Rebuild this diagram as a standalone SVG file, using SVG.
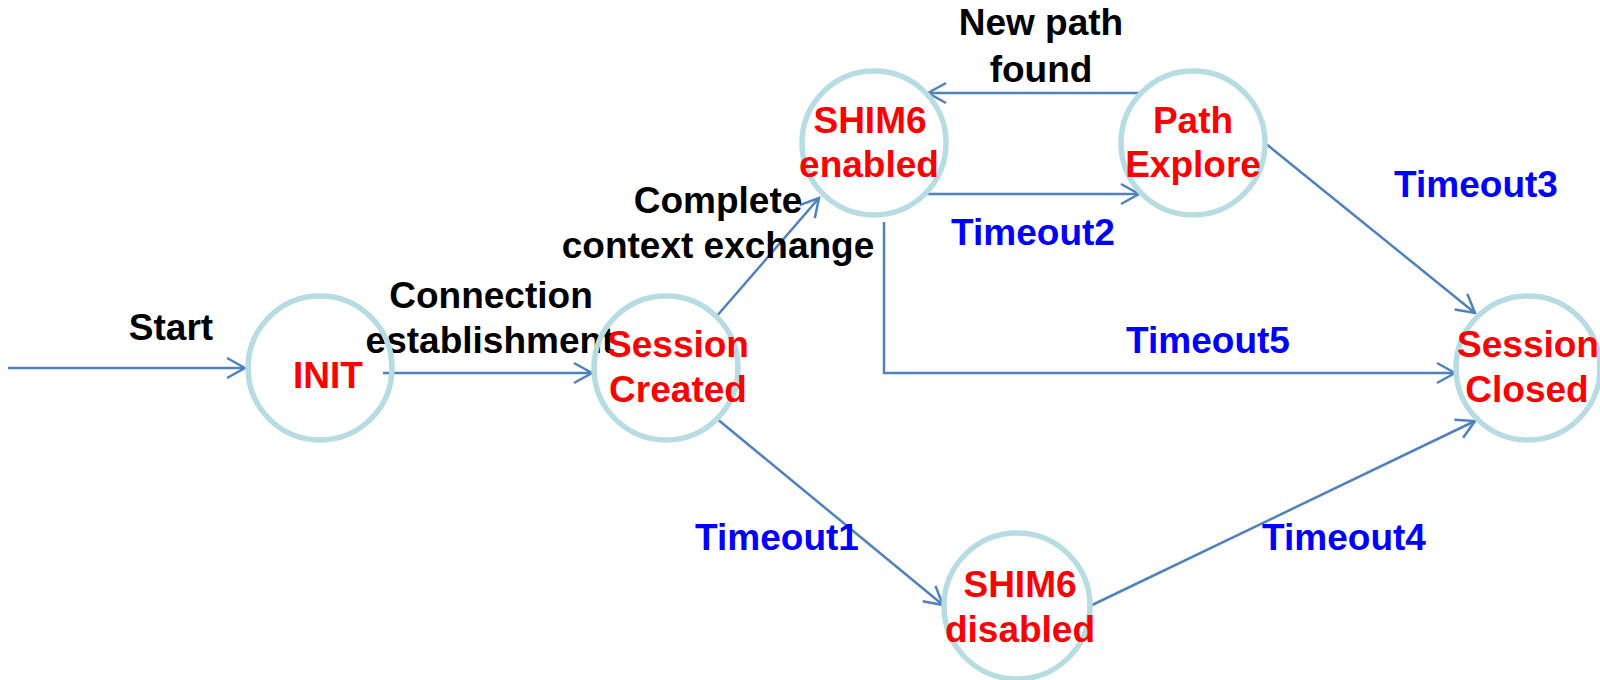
<svg xmlns="http://www.w3.org/2000/svg" width="1600" height="680" viewBox="0 0 1600 680">
  <style>
    .state { fill: none; stroke: #B7DDE3; stroke-width: 5.5; }
    .name { fill: #FF0000; font-family: "Liberation Sans", Arial, sans-serif; font-weight: bold; font-size: 37px; text-anchor: middle; }
    .edge { fill: none; stroke: #4F81BD; stroke-width: 2.5; marker-end: url(#open); }
    .lbl { fill: #000000; font-family: "Liberation Sans", Arial, sans-serif; font-weight: bold; font-size: 37px; text-anchor: middle; }
    .tmo { fill: #0000FF; font-family: "Liberation Sans", Arial, sans-serif; font-weight: bold; font-size: 37px; text-anchor: middle; }
  </style>
  <defs>
    <marker id="open" markerUnits="userSpaceOnUse" markerWidth="24" markerHeight="24" viewBox="-20 -12 22 24" refX="0" refY="0" orient="auto" overflow="visible">
      <path d="M -18 -10 L 0 0 L -18 10" fill="none" stroke="#4F81BD" stroke-width="2.5"/>
    </marker>
  </defs>
  <rect width="1600" height="680" fill="#FFFFFF"/>

  <!-- transitions -->
  <g id="connectors">
    <path class="edge" d="M 8 368 L 245 368"/>
    <path class="edge" d="M 383 373 L 592 373"/>
    <path class="edge" d="M 716 317 L 819 198"/>
    <path class="edge" d="M 923 194 L 1139 194"/>
    <path class="edge" d="M 1142 93 L 928 93"/>
    <path class="edge" d="M 1265 143 L 1475 313"/>
    <path class="edge" d="M 884 222 L 884 373 L 1455 373"/>
    <path class="edge" d="M 716 418 L 943 605"/>
    <path class="edge" d="M 1088 607 L 1475 421"/>
  </g>

  <!-- transition labels -->
  <g id="labels">
    <text class="lbl" x="171" y="340">Start</text>
    <text class="lbl" x="491" y="308">Connection</text>
    <text class="lbl" x="490" y="353">establishment</text>
    <text class="lbl" x="718" y="213">Complete</text>
    <text class="lbl" x="718" y="258">context exchange</text>
    <text class="lbl" x="1041" y="35">New path</text>
    <text class="lbl" x="1041" y="82">found</text>
    <text class="tmo" x="777" y="550">Timeout1</text>
    <text class="tmo" x="1033" y="245">Timeout2</text>
    <text class="tmo" x="1476" y="197">Timeout3</text>
    <text class="tmo" x="1344" y="550">Timeout4</text>
    <text class="tmo" x="1208" y="353">Timeout5</text>
  </g>

  <!-- states -->
  <g id="init">
    <circle class="state" cx="320" cy="368" r="72"/>
    <text class="name" x="328" y="388">INIT</text>
  </g>
  <g id="session-created">
    <circle class="state" cx="666" cy="368" r="72"/>
    <text class="name" x="678" y="357">Session</text>
    <text class="name" x="678" y="402">Created</text>
  </g>
  <g id="shim6-enabled">
    <circle class="state" cx="874" cy="143" r="72"/>
    <text class="name" x="870" y="133">SHIM6</text>
    <text class="name" x="869" y="177">enabled</text>
  </g>
  <g id="path-explore">
    <circle class="state" cx="1193" cy="143" r="72"/>
    <text class="name" x="1193" y="133">Path</text>
    <text class="name" x="1193" y="177">Explore</text>
  </g>
  <g id="session-closed">
    <circle class="state" cx="1528" cy="368" r="72"/>
    <text class="name" x="1528" y="357">Session</text>
    <text class="name" x="1527" y="402">Closed</text>
  </g>
  <g id="shim6-disabled">
    <circle class="state" cx="1017" cy="606" r="73"/>
    <text class="name" x="1020" y="597">SHIM6</text>
    <text class="name" x="1020" y="642">disabled</text>
  </g>
</svg>
